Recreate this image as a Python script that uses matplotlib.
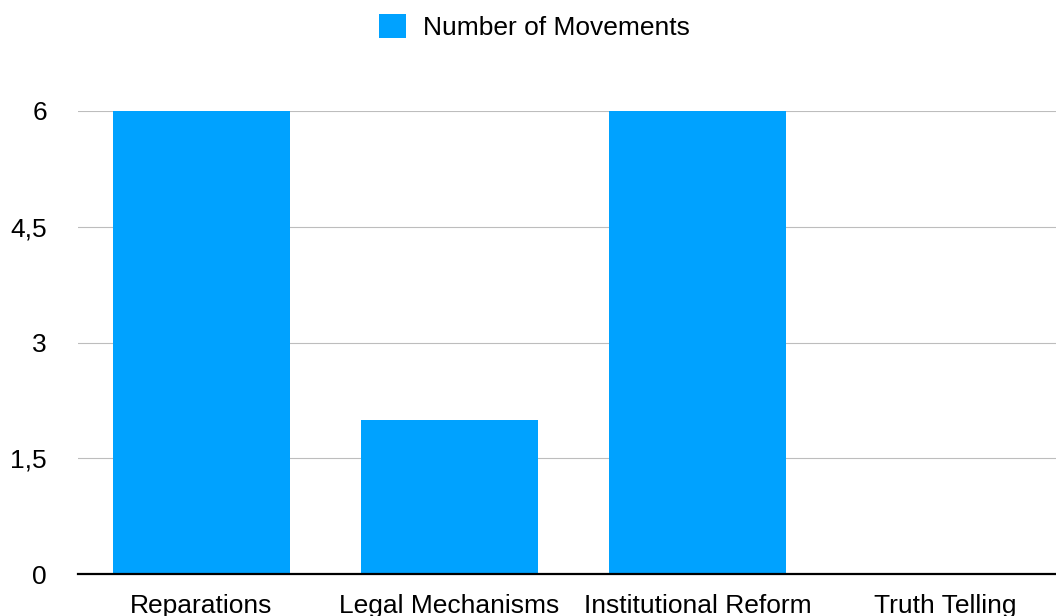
import matplotlib.pyplot as plt
from matplotlib.ticker import FuncFormatter

categories = ["Reparations", "Legal Mechanisms", "Institutional Reform", "Truth Telling"]
movements = [6, 2, 6, 0]
y_ticks = [0, 1.5, 3, 4.5, 6]

plt.rcParams["font.family"] = ["Liberation Sans", "DejaVu Sans"]

fig = plt.figure(figsize=(10.56, 6.16), dpi=100)
# the plot area runs past the right edge of the canvas
ax = fig.add_axes([77.5 / 1056, 1 - 574 / 616, 992 / 1056, (574 - 111) / 616])

x = range(len(categories))
bars = ax.bar(x, movements, width=0.714, color="#00A2FF", label="Number of Movements", zorder=2)

ax.set_xlim(-0.5, 3.5)
ax.set_ylim(0, 6)
ax.set_yticks(y_ticks)
ax.yaxis.set_major_formatter(FuncFormatter(lambda v, _: f"{v:g}".replace(".", ",")))
ax.set_xticks(list(x))
ax.set_xticklabels(categories)
ax.tick_params(axis="y", length=0, pad=22, labelsize=19)
ax.tick_params(axis="x", length=0, pad=28, labelsize=19)
for lbl in ax.get_xticklabels():
    lbl.set_verticalalignment("baseline")

ax.grid(axis="y", color="#bdbdbd", linewidth=0.8, zorder=0)
for side in ["top", "right", "left"]:
    ax.spines[side].set_visible(False)
ax.spines["bottom"].set_linewidth(1.6)
ax.spines["bottom"].set_color("black")
ax.spines["bottom"].set_zorder(3)

fig.legend(handles=[bars], loc="center", bbox_to_anchor=(0.506, 1 - 27 / 616),
           frameon=False, fontsize=19, handlelength=1.0, handleheight=1.0,
           handletextpad=0.65, borderpad=0)

fig.savefig("out.png", dpi=100)
plt.close(fig)
